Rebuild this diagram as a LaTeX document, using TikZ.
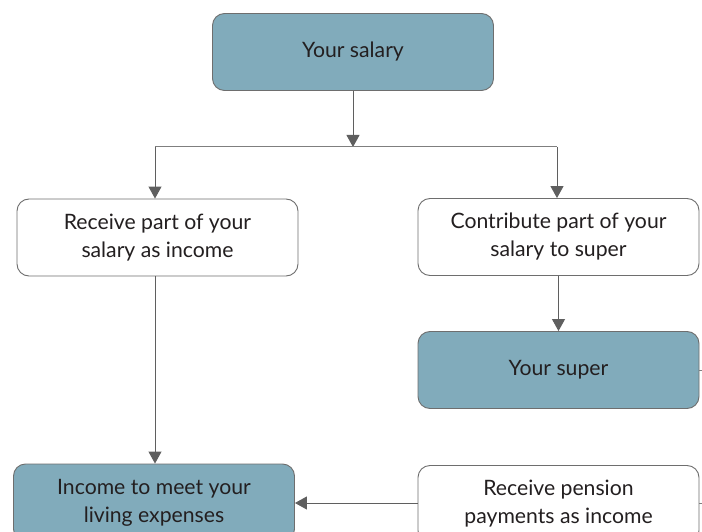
\documentclass[tikz,border=0pt]{standalone}
\usepackage{fontspec}
\setmainfont{Lato}
\usetikzlibrary{arrows.meta}
\definecolor{boxblue}{HTML}{81ABBB}
\definecolor{boxline}{HTML}{6E6E6E}
\definecolor{arrowgray}{HTML}{5F5F5F}
\definecolor{txt}{HTML}{231F20}
\tikzset{
  base/.style={draw=boxline, line width=0.9pt, rounded corners=12pt, minimum width=281pt, minimum height=77pt, align=center, text=txt, font=\fontsize{21.2}{28}\selectfont, inner sep=0pt},
  filledbox/.style={base, fill=boxblue},
  plainbox/.style={base, fill=white},
  conn/.style={draw=arrowgray, line width=1pt, -{Triangle[length=12pt,width=13pt]}},
  plainline/.style={draw=arrowgray!80, line width=1pt},
}
\begin{document}
\begin{tikzpicture}[x=1pt,y=-1pt]
\useasboundingbox (0,0) rectangle (702,532);
\clip (0,0) rectangle (702,532);
\node[filledbox] (salary) at (353,52) {Your salary};
\node[plainbox] (income) at (157.5,237.5) {Receive part of your\\salary as income};
\node[plainbox] (contrib) at (558.5,237) {Contribute part of your\\salary to super};
\node[filledbox] (super) at (558.5,370) {Your super};
\node[filledbox] (living) at (154,502.5) {Income to meet your\\living expenses};
\node[plainbox] (pension) at (558.5,504) {Receive pension\\payments as income};
\coordinate (split) at (353,147);
\coordinate (splitL) at (155,147);
\coordinate (splitR) at (557,147);
\coordinate (superout) at (720,370);
\coordinate (pensionout) at (720,503);
\draw[conn] (salary.south) -- (split);
\draw[plainline] (splitL) -- (splitR);
\draw[conn] (splitL) -- (splitL |- income.north);
\draw[conn] (splitR) -- (splitR |- contrib.north);
\draw[conn] (contrib.south) -- (super.north);
\draw[conn] (155,0 |- income.south) -- (155,0 |- living.north);
\draw[conn] (pension.west |- 0,503) -- (living.east |- 0,503);
\draw[plainline] (super.east) -- (superout);
\draw[plainline] (pension.east |- 0,503) -- (pensionout);
\end{tikzpicture}
\end{document}
